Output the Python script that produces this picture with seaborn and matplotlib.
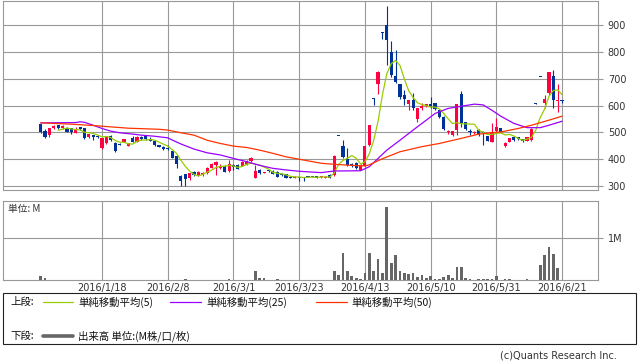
import numpy as np
import pandas as pd
import matplotlib
matplotlib.use("Agg")
import matplotlib.pyplot as plt
import seaborn as sns
from matplotlib.lines import Line2D
from matplotlib.patches import Rectangle

# ---------------- data ----------------
tick_days = [14, 29, 44, 59, 74, 89, 104, 119]
tick_labels = ["2016/1/18", "2016/2/8", "2016/3/1", "2016/3/23",
               "2016/4/13", "2016/5/10", "2016/5/31", "2016/6/21"]

open_ = [531, 505, 490, 516, 527, 516, 517, 516, 498, 520,
         516, 483, 490, 488, 443, 460, 487, 461, 458, 465,
         450, 480, 465, 484, 487, 474, 468, 453, 446, 442,
         430, 412, 338, 344, 330, 353, 341, 341, 347, 368,
         378, 368, 376, 356, 378, 380, 376, 380, 393, 331,
         360, 350, 358, 356, 353, 345, 344, 334, 330, 333,
         333, 336, 336, 337, 333, 330, 341, 341, 490, 450,
         400, 380, 387, 360, 375, 452, 628, 680, 875, 900,
         799, 710, 680, 639, 605, 620, 550, 590, 600, 606,
         609, 583, 557, 500, 490, 509, 643, 538, 505, 498,
         509, 502, 486, 465, 505, 516, 449, 465, 484, 482,
         475, 470, 471, 610, 708, 611, 647, 710, 618, 620]
high = [533, 512, 518, 527, 529, 527, 520, 518, 520, 522,
        518, 496, 492, 490, 479, 488, 490, 463, 460, 477,
        462, 488, 486, 486, 489, 484, 470, 455, 448, 452,
        432, 414, 340, 346, 350, 356, 355, 352, 370, 386,
        392, 384, 378, 397, 384, 382, 392, 396, 407, 378,
        362, 353, 360, 358, 355, 347, 346, 336, 337, 335,
        335, 338, 338, 339, 338, 337, 343, 415, 490, 471,
        441, 386, 389, 384, 451, 527, 628, 729, 875, 971,
        841, 807, 682, 660, 622, 647, 592, 610, 608, 631,
        612, 585, 560, 510, 507, 605, 655, 540, 512, 504,
        512, 505, 488, 536, 553, 518, 463, 481, 486, 484,
        477, 484, 516, 610, 708, 640, 727, 733, 680, 622]
low = [499, 480, 483, 513, 514, 514, 500, 496, 497, 510,
       477, 481, 471, 481, 440, 458, 470, 428, 452, 463,
       448, 463, 463, 473, 473, 468, 450, 445, 436, 436,
       403, 367, 301, 300, 322, 338, 339, 339, 345, 366,
       341, 365, 351, 354, 359, 363, 374, 378, 391, 329,
       345, 348, 354, 343, 332, 338, 329, 328, 328, 320,
       320, 333, 333, 328, 331, 328, 328, 339, 490, 405,
       376, 370, 364, 358, 373, 450, 602, 643, 848, 751,
       707, 686, 626, 603, 583, 583, 540, 585, 596, 590,
       585, 555, 510, 495, 488, 490, 520, 510, 490, 496,
       488, 453, 467, 463, 500, 500, 447, 463, 470, 472,
       466, 468, 469, 606, 706, 590, 640, 590, 575, 612]
close = [501, 484, 516, 524, 516, 524, 502, 500, 511, 512,
         479, 494, 483, 484, 478, 487, 472, 430, 453, 475,
         459, 465, 484, 475, 475, 470, 453, 447, 438, 438,
         405, 381, 319, 326, 348, 341, 353, 350, 368, 384,
         390, 374, 353, 384, 372, 365, 390, 393, 405, 356,
         347, 352, 356, 345, 335, 340, 331, 330, 335, 331,
         331, 335, 335, 330, 336, 335, 330, 413, 490, 409,
         378, 378, 366, 380, 449, 527, 628, 725, 875, 844,
         714, 688, 632, 624, 620, 590, 590, 598, 605, 594,
         587, 557, 512, 505, 505, 605, 535, 512, 500, 502,
         490, 500, 469, 502, 520, 502, 461, 479, 472, 474,
         468, 482, 512, 608, 707, 624, 725, 620, 621, 617]
volume_m = [0.10, 0.04, 0.006, 0.006, 0.005, 0.005, 0.005, 0.005, 0.005, 0.005,
            0.005, 0.005, 0.005, 0.005, 0.005, 0.005, 0.005, 0.005, 0.005, 0.005,
            0.005, 0.005, 0.005, 0.005, 0.005, 0.005, 0.005, 0.005, 0.005, 0.005,
            0.006, 0.008, 0.01, 0.02, 0.008, 0.006, 0.005, 0.005, 0.005, 0.005,
            0.005, 0.005, 0.008, 0.02, 0.006, 0.005, 0.005, 0.005, 0.005, 0.21,
            0.055, 0.045, 0.01, 0.01, 0.03, 0.008, 0.005, 0.005, 0.005, 0.005,
            0.005, 0.005, 0.005, 0.005, 0.005, 0.005, 0.006, 0.21, 0.12, 0.65,
            0.21, 0.10, 0.055, 0.03, 0.17, 0.65, 0.21, 0.50, 0.17, 1.74,
            0.41, 0.60, 0.21, 0.17, 0.15, 0.17, 0.07, 0.12, 0.045, 0.09,
            0.03, 0.03, 0.07, 0.12, 0.045, 0.31, 0.31, 0.045, 0.02, 0.01,
            0.02, 0.02, 0.02, 0.035, 0.09, 0.01, 0.035, 0.02, 0.01, 0.005,
            0.01, 0.025, 0.01, 0.005, 0.36, 0.60, 0.79, 0.62, 0.29, 0.0]

ma25_day = [0, 8, 9, 10, 12, 14, 16, 18, 21, 23, 26, 29, 30, 32, 35, 38, 41, 44,
            47, 50, 53, 56, 59, 64, 67, 73, 75, 77, 79, 82, 85, 88, 90, 93, 96,
            99, 101, 103, 105, 108, 111, 114, 116, 119]
ma25_val = [536, 537, 540, 538, 527, 515, 505, 499, 494, 490, 486, 480, 472, 457,
            438, 424, 416, 403, 391, 377, 366, 360, 355, 350, 356, 357, 372, 403,
            434, 471, 509, 546, 571, 590, 598, 606, 603, 583, 561, 534, 518, 518,
            527, 542]
ma50_day = [0, 7, 12, 16, 20, 27, 29, 32, 35, 38, 41, 44, 47, 50, 53, 56, 59, 64,
            67, 71, 74, 75, 78, 82, 87, 91, 96, 100, 105, 109, 112, 116, 119]
ma50_val = [536, 531, 526, 521, 516, 512, 509, 499, 490, 471, 459, 449, 444, 434,
            422, 409, 400, 385, 381, 377, 375, 379, 402, 428, 447, 459, 478, 494,
            502, 515, 527, 546, 561]

legend_top = ["単純移動平均(5)", "単純移動平均(25)", "単純移動平均(50)"]
legend_bottom = "出来高 単位:(M株/口/枚)"

# ---------------- style ----------------
sns.set_theme(style="white")
plt.rcParams['font.family'] = ['DejaVu Sans']
CJK = ['Noto Sans CJK JP', 'DejaVu Sans']

UP, DOWN = '#ff0040', '#003399'
C5, C25, C50 = '#99cc00', '#9900ff', '#ff3300'
GRID = '#999999'
TXT = '#333333'

W, H = 638, 362
fig = plt.figure(figsize=(W / 100, H / 100), dpi=100)
fig.patch.set_facecolor('white')


def fx(px):
    return px / W


def fy(py):
    return 1 - py / H


ax = fig.add_axes([fx(3), fy(190), fx(598) - fx(3), fy(0.6) - fy(190)])
axv = fig.add_axes([fx(3), fy(280), fx(598) - fx(3), fy(201) - fy(280)])

# ---------------- candles ----------------
n = len(close)
x = np.arange(n)
o = np.array(open_, float)
c = np.array(close, float)
hi = np.array(high, float)
lo = np.array(low, float)
cols = np.where(c > o, UP, DOWN)
ax.vlines(x, lo, hi, colors=cols, lw=0.8, zorder=3)
diff = np.abs(c - o)
mid = (o + c) / 2
bot = np.where(diff < 3.5, mid - 1.8, np.minimum(o, c))
hgt = np.where(diff < 3.5, 3.6, diff)
ax.bar(x, hgt, bottom=bot, width=0.72, color=cols, linewidth=0, zorder=3)

# ---------------- moving averages ----------------
df5 = pd.DataFrame({'day': x, 'ma5': pd.Series(close, dtype=float).rolling(5).mean()}).dropna()
sns.lineplot(data=df5, x='day', y='ma5', ax=ax, color=C5, lw=0.9, zorder=4)
sns.lineplot(x=ma25_day, y=ma25_val, ax=ax, color=C25, lw=0.9, zorder=4)
sns.lineplot(x=ma50_day, y=ma50_val, ax=ax, color=C50, lw=0.9, zorder=4)

# ---------------- volume ----------------
sns.barplot(x=x, y=volume_m, ax=axv, native_scale=True, color='#666666',
            saturation=1, width=0.62, errorbar=None, linewidth=0, zorder=3)

# ---------------- axes styling ----------------
for a in (ax, axv):
    a.set_facecolor('white')
    a.set_xlim(-8.6, 127.2)
    a.set_xticks(tick_days)
    a.set_axisbelow(True)
    a.grid(True, color=GRID, lw=0.8)
    for s in a.spines.values():
        s.set_color(GRID)
        s.set_linewidth(0.8)
    a.yaxis.tick_right()
    a.tick_params(axis='y', right=True, left=False, length=3.6, width=0.8,
                  color=GRID, labelsize=7, labelcolor=TXT, pad=3.4)
    a.set_xlabel('')
    a.set_ylabel('')

ax.set_ylim(285, 993)
ax.set_yticks(range(300, 1000, 100))
ax.tick_params(axis='x', length=0, labelbottom=False)

axv.set_ylim(0, 1.88)
axv.set_yticks([1])
axv.set_yticklabels(['1M'])
axv.set_xticklabels(tick_labels)
axv.tick_params(axis='x', length=0, labelsize=7, labelcolor=TXT, pad=2.5)

fig.text(fx(8), fy(209), "単位: M", family=CJK, fontsize=7, color=TXT, va='center', ha='left')

# ---------------- legend box ----------------
fig.add_artist(Rectangle((fx(3), fy(344)), fx(636) - fx(3), fy(293) - fy(344),
                         transform=fig.transFigure, fill=False, edgecolor='#222222', lw=0.8))
r1, r2 = 302, 336
fig.text(fx(10), fy(r1), "上段:", family=CJK, fontsize=7.5, va='center', ha='left', color='#111111')
for (x0, x1, tx, col, lab) in [(43, 73, 78, C5, legend_top[0]),
                              (170, 201, 206, C25, legend_top[1]),
                              (316, 347, 351, C50, legend_top[2])]:
    fig.add_artist(Line2D([fx(x0), fx(x1)], [fy(r1), fy(r1)], color=col, lw=0.9,
                          transform=fig.transFigure))
    fig.text(fx(tx), fy(r1), lab, family=CJK, fontsize=7.5, va='center', ha='left', color='#111111')
fig.text(fx(10), fy(r2), "下段:", family=CJK, fontsize=7.5, va='center', ha='left', color='#111111')
fig.add_artist(Line2D([fx(43), fx(73)], [fy(r2), fy(r2)], color='#666666', lw=2.6,
                      transform=fig.transFigure))
fig.text(fx(78), fy(r2), legend_bottom, family=CJK, fontsize=7.5, va='center', ha='left', color='#111111')

fig.text(fx(617), fy(356), "(c)Quants Research Inc.", fontsize=7, color=TXT, va='center', ha='right')

fig.savefig("out.png", dpi=100, facecolor='white')
